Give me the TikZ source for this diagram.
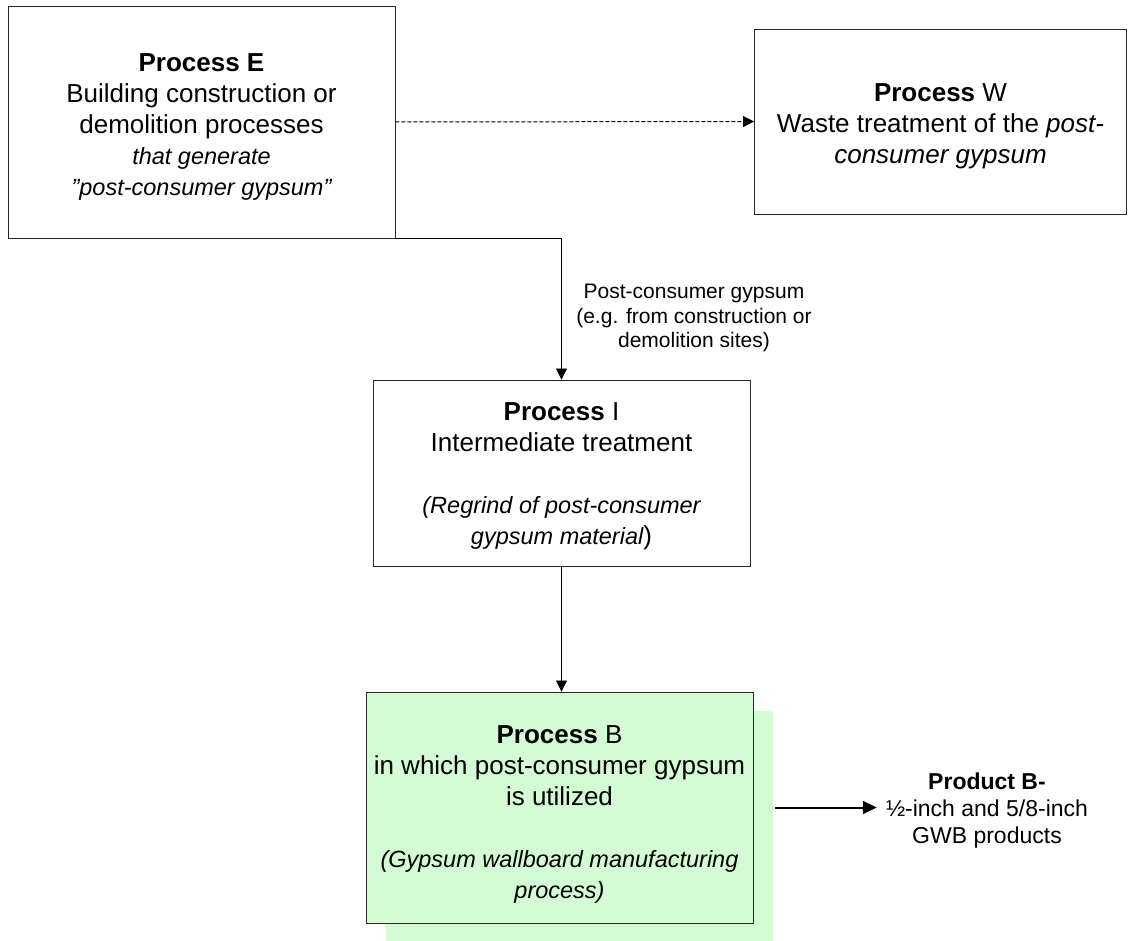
\documentclass[tikz,border=0pt]{standalone}
\usepackage{fontspec}
\setmainfont{Liberation Sans}
\usetikzlibrary{arrows.meta,positioning,shadows}
\definecolor{gypgreen}{RGB}{212,252,212}
\newcommand{\smallit}[1]{{\fontsize{23.5}{31}\selectfont\itshape #1}}
\newcommand{\toppad}[1]{\rule{0pt}{#1}}

\begin{document}
\begin{tikzpicture}
[x=1pt,y=-1pt,
procbox/.style={draw=black!85,line width=0.9pt,align=center,inner sep=0pt,font=\fontsize{26}{31}\selectfont},
flowtip/.style={-{Triangle[length=11pt,width=11pt]},line width=0.8pt},
smalltext/.style={align=center,inner sep=0pt,font=\fontsize{21}{24.5}\selectfont}]
\useasboundingbox (0,0) rectangle (1128,941);

\node[procbox,minimum width=387,minimum height=232] (E) at (201.5,122)
  {\toppad{28.6pt}\textbf{Process E}\\ Building construction or\\ demolition processes\\
   \smallit{that generate}\\ \smallit{”post-consumer gypsum”}};
\node[procbox,minimum width=372,minimum height=185] (W) at (940.5,121.5)
  {\toppad{26.6pt}\textbf{Process} W\\ Waste treatment of the \textit{post-}\\ \textit{consumer gypsum}};
\node[procbox,minimum width=377,minimum height=186] (I) at (561.5,473)
  {\toppad{24.6pt}\textbf{Process} I\\ Intermediate treatment\\[31pt]
   \smallit{(Regrind of post-consumer}\\ \smallit{gypsum material})};
\node[procbox,minimum width=387,minimum height=231,fill=gypgreen,
  drop shadow={shadow xshift=20pt,shadow yshift=-19pt,fill=gypgreen,opacity=1}] (B) at (559.5,807.5)
  {\toppad{31pt}\textbf{Process} B\\ in which post-consumer gypsum\\ is utilized\\[31pt]
   \smallit{(Gypsum wallboard manufacturing}\\ \smallit{process)}};

\node[smalltext] (pcg) at (694,318) {Post-consumer gypsum\\ (e.g. from construction or\\ demolition sites)};
\node[align=center,inner sep=9pt,font=\fontsize{23}{27}\selectfont] (prodB) at (987,811)
  {\textbf{Product B-}\\ ½-inch and 5/8-inch\\ GWB products};

\coordinate (Bout) at ([xshift=22pt]B.east);

\draw [flowtip,line width=1pt,dash pattern=on 4pt off 2pt] (E.east) -- (W.west);
\draw [flowtip] (E.south east) -| (I.north);
\draw [flowtip] (I.south) -- (I.south |- B.north);
\draw [-{Triangle[length=14pt,width=13pt]},line width=2pt] (Bout) -- (Bout -| prodB.west);
\end{tikzpicture}
\end{document}
